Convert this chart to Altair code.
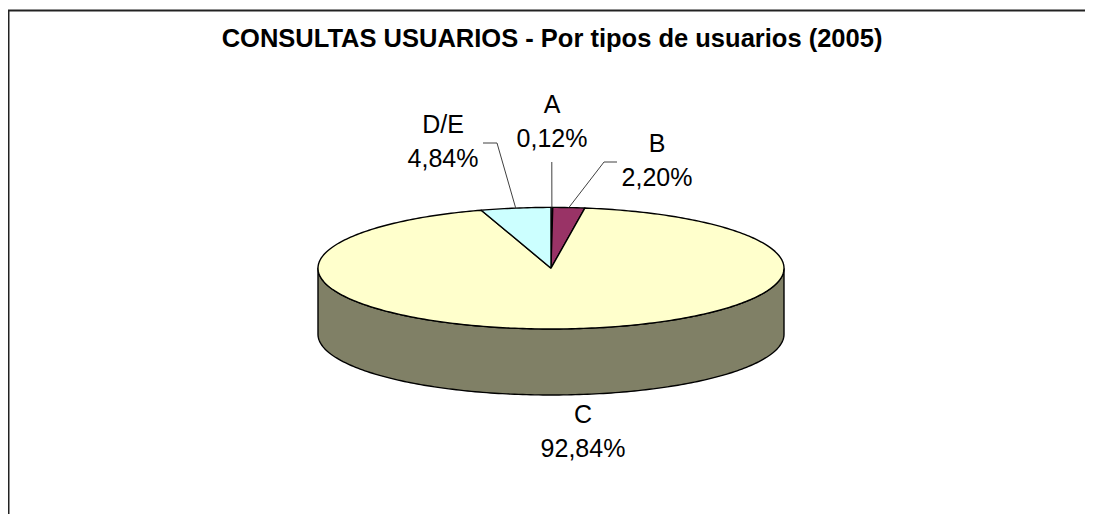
import altair as alt
import numpy as np
import pandas as pd

# ---- data ----
categories = ["A", "B", "C", "D/E"]
values = [0.12, 2.20, 92.84, 4.84]
colors = ["#9999FF", "#993366", "#FFFFCC", "#CCFFFF"]
side_color = "#808066"
title_text = "CONSULTAS USUARIOS - Por tipos de usuarios (2005)"

# ---- layout (page pixel coordinates) ----
X0, X1, Y0, Y1 = 8, 1085, 8, 514
CX, CY, RX, RY, DEPTH = 551, 268.2, 233, 60.8, 66
label_pos = {  # baseline of first line, x centre
    "A": (552, 113),
    "B": (657, 152),
    "C": (583, 423),
    "D/E": (443, 133),
}
leader_elbows = {
    "A": [(551.8, 162)],
    "B": [(604, 162), (617, 162)],
    "D/E": [(497, 143), (483, 143)],
}
LINE_GAP = 34


def ell(theta_deg, dy=0.0):
    t = np.radians(theta_deg)
    return CX + RX * np.sin(t), CY - RY * np.cos(t) + dy


# top-face slice polygons
rows = []
total = sum(values)
start = 0.0
mids = {}
for cat, v in zip(categories, values):
    span = v / total * 360.0
    end = start + span
    mids[cat] = start + span / 2
    n = max(2, int(np.ceil(span)) + 1)
    pts = [(CX, CY)]
    for a in np.linspace(start, end, n):
        pts.append(ell(a))
    pts.append((CX, CY))
    for i, (x, y) in enumerate(pts):
        rows.append({"slice": cat, "i": i, "x": x, "y": y})
    start = end
top_df = pd.DataFrame(rows)

# side wall (front, 90..270 deg)
side_rows = []
k = 0
for a in np.linspace(90, 270, 181):
    x, y = ell(a)
    side_rows.append({"slice": "side", "i": k, "x": x, "y": y}); k += 1
for a in np.linspace(270, 90, 181):
    x, y = ell(a, DEPTH)
    side_rows.append({"slice": "side", "i": k, "x": x, "y": y}); k += 1
side_rows.append(dict(side_rows[0], i=k))
side_df = pd.DataFrame(side_rows)

# leader lines
lead_rows = []
for cat, elbows in leader_elbows.items():
    x, y = ell(mids[cat])
    pts = [(x, y)] + elbows
    for i, (px, py) in enumerate(pts):
        lead_rows.append({"slice": cat, "i": i, "x": px, "y": py})
lead_df = pd.DataFrame(lead_rows)

# labels
lab_rows = []
for cat, v in zip(categories, values):
    lx, ly = label_pos[cat]
    lab_rows.append({"t": cat, "x": lx, "y": ly})
    lab_rows.append({"t": f"{v:.2f}".replace(".", ",") + "%", "x": lx, "y": ly + LINE_GAP})
lab_df = pd.DataFrame(lab_rows)

frame_df = pd.DataFrame([
    {"x": X0, "y": 10.5, "x2": X1, "y2": 10.5},
    {"x": 8.5, "y": 10.5, "x2": 8.5, "y2": Y1},
])
title_df = pd.DataFrame([{"t": title_text, "x": 552, "y": 47}])

xs = alt.Scale(domain=[X0, X1], nice=False, zero=False)
ys = alt.Scale(domain=[Y0, Y1], nice=False, zero=False, reverse=True)
X = lambda f="x": alt.X(f"{f}:Q", scale=xs, axis=None)
Y = lambda f="y": alt.Y(f"{f}:Q", scale=ys, axis=None)

side = alt.Chart(side_df).mark_line(
    fill=side_color, stroke="black", strokeWidth=1.4, strokeJoin="round"
).encode(x=X(), y=Y(), order="i:Q", detail="slice:N")

top = alt.Chart(top_df).mark_line(
    stroke="black", strokeWidth=1.4, strokeJoin="round"
).encode(
    x=X(), y=Y(), order="i:Q", detail="slice:N",
    fill=alt.Fill("slice:N", scale=alt.Scale(domain=categories, range=colors), legend=None),
)

leaders = alt.Chart(lead_df).mark_line(stroke="#404040", strokeWidth=1).encode(
    x=X(), y=Y(), order="i:Q", detail="slice:N"
)

labels = alt.Chart(lab_df).mark_text(
    font="Liberation Sans", fontSize=25, color="black", align="center", baseline="alphabetic"
).encode(x=X(), y=Y(), text="t:N")

title = alt.Chart(title_df).mark_text(
    font="Liberation Sans", fontSize=25.5, fontWeight="bold", color="black",
    align="center", baseline="alphabetic"
).encode(x=X(), y=Y(), text="t:N")

frame = alt.Chart(frame_df).mark_rule(color="#222222", strokeWidth=2).encode(
    x=X(), y=Y(), x2="x2:Q", y2="y2:Q"
)

chart = alt.layer(frame, side, top, leaders, labels, title).properties(
    width=X1 - X0, height=Y1 - Y0,
    autosize=alt.AutoSizeParams(type="none"),
    padding=0,
    background="white",
).configure_view(stroke=None)

chart.save("out.html", embed_options={"renderer": "svg", "actions": False})
